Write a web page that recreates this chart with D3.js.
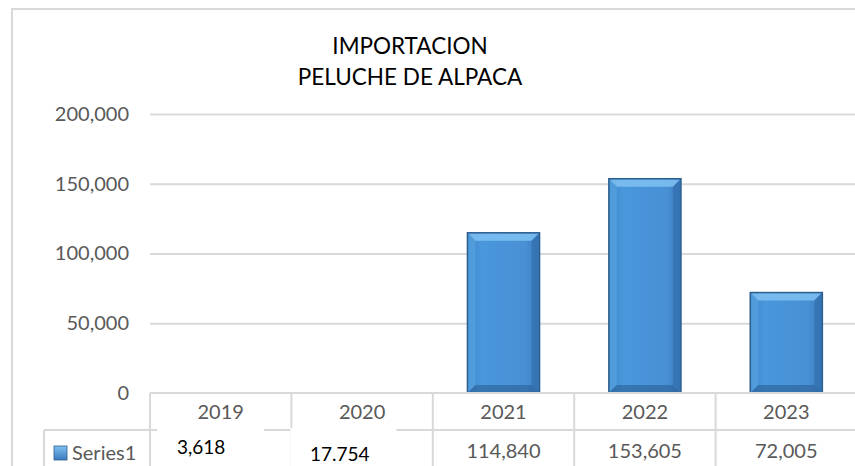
<!DOCTYPE html>
<html><head><meta charset="utf-8">
<script src="https://cdn.jsdelivr.net/npm/d3@7"></script>
<style>body{margin:0;background:#fff}svg{display:block}</style>
</head><body>
<svg id="c" width="855" height="466"></svg>
<script>
const categories = ["2019","2020","2021","2022","2023"];
const barValues = [0, 0, 114840, 153605, 72005];
const tableLabels = ["3,618","17.754","114,840","153,605","72,005"];
const yTicks = [0, 50000, 100000, 150000, 200000];
const seriesName = "Series1";
const titleLines = ["IMPORTACION","PELUCHE DE ALPACA"];

const svg = d3.select("#c");
const font = "Lato, 'Open Sans', sans-serif";
const L = 150, R = 857, T = 114, B = 393;
const x = d3.scaleBand().domain(categories).range([L, R]).paddingInner(0.49).paddingOuter(0.245);
const xc = d3.scaleBand().domain(categories).range([L, R]);
const y = d3.scaleLinear().domain([0, 200000]).range([B, T]);

// outer border
svg.append("rect").attr("x",12).attr("y",9).attr("width",900).attr("height",500)
  .attr("fill","none").attr("stroke","#d9d9d9").attr("stroke-width",2);

// title
svg.append("g").selectAll("text").data(titleLines).join("text")
  .attr("x",410).attr("y",(d,i)=>54+i*31).attr("text-anchor","middle")
  .attr("font-family",font).attr("font-size",22.5).attr("fill","#000").text(d=>d);

// gridlines
const yAxis = d3.axisLeft(y).tickValues(yTicks).tickFormat(d3.format(",")).tickSize(-(R-L)).tickPadding(21);
const gy = svg.append("g").attr("transform",`translate(${L},0)`).call(yAxis);
gy.select(".domain").remove();
gy.selectAll(".tick line").attr("stroke","#d9d9d9").attr("stroke-width",2)
  .filter(d=>d===0).remove();
gy.selectAll(".tick text").attr("font-family",font).attr("font-size",20).attr("fill","#595959");

// defs
const defs = svg.append("defs");
const g1 = defs.append("linearGradient").attr("id","bg").attr("x1",0).attr("x2",1).attr("y1",0).attr("y2",0);
g1.append("stop").attr("offset","0%").attr("stop-color","#3f86c9");
g1.append("stop").attr("offset","20%").attr("stop-color","#4a97dc");
g1.append("stop").attr("offset","80%").attr("stop-color","#4890d4");
g1.append("stop").attr("offset","100%").attr("stop-color","#3a7bbd");

const bars = svg.append("g").selectAll("g").data(categories.map((c,i)=>({c,v:barValues[i]})).filter(d=>d.v>0)).join("g");
bars.append("rect").attr("x",d=>x(d.c)).attr("y",d=>y(d.v)).attr("width",x.bandwidth())
  .attr("height",d=>B-y(d.v)).attr("fill","url(#bg)").attr("stroke","#2d5f8e").attr("stroke-width",1.5);
const bev = 8;
bars.append("polygon").attr("points",d=>{const x0=x(d.c),x1=x0+x.bandwidth(),t=y(d.v);
  return `${x0+1},${t+1} ${x1-1},${t+1} ${x1-bev},${t+bev} ${x0+bev},${t+bev}`;}).attr("fill","#7fc1f2").attr("opacity",0.85);
bars.append("polygon").attr("points",d=>{const x0=x(d.c),t=y(d.v);
  return `${x0+1},${t+1} ${x0+bev},${t+bev} ${x0+bev},${B-bev} ${x0+1},${B-1}`;}).attr("fill","#5aa6e3").attr("opacity",0.6);
bars.append("polygon").attr("points",d=>{const x1=x(d.c)+x.bandwidth(),t=y(d.v);
  return `${x1-1},${t+1} ${x1-bev},${t+bev} ${x1-bev},${B-bev} ${x1-1},${B-1}`;}).attr("fill","#2f6aa6").attr("opacity",0.55);
bars.append("polygon").attr("points",d=>{const x0=x(d.c),x1=x0+x.bandwidth();
  return `${x0+1},${B-1} ${x1-1},${B-1} ${x1-bev},${B-bev} ${x0+bev},${B-bev}`;}).attr("fill","#2a5f96").attr("opacity",0.6);

// data table
const tg = svg.append("g");
const lc = "#d9d9d9";
const r1 = B, r2 = 430;
tg.append("line").attr("x1",L).attr("x2",R).attr("y1",r1).attr("y2",r1).attr("stroke",lc).attr("stroke-width",2);
tg.append("line").attr("x1",44).attr("x2",R).attr("y1",r2).attr("y2",r2).attr("stroke",lc).attr("stroke-width",2);
tg.append("line").attr("x1",44).attr("x2",44).attr("y1",r2).attr("y2",470).attr("stroke",lc).attr("stroke-width",2);
tg.selectAll("line.v").data(categories).join("line").attr("class","v")
  .attr("x1",d=>xc(d)).attr("x2",d=>xc(d)).attr("y1",r1).attr("y2",470).attr("stroke",lc).attr("stroke-width",2);
tg.selectAll("text.cat").data(categories).join("text").attr("class","cat")
  .attr("x",d=>xc(d)+xc.bandwidth()/2).attr("y",419).attr("text-anchor","middle")
  .attr("font-family",font).attr("font-size",20).attr("fill","#595959").text(d=>d);
// overlaid text boxes for the first two labels
const ov = [0,1];
tg.selectAll("rect.ov").data(ov).join("rect").attr("class","ov")
  .attr("x",i=>xc(categories[i])+(i===0?7:-1)).attr("y",r2-2).attr("width",i=>i===0?107:106).attr("height",40).attr("fill","#fff");
tg.selectAll("text.val").data(categories).join("text").attr("class","val")
  .attr("x",(d,i)=> i===0 ? 177 - L + xc(d) : i===1 ? 310 - 291.4 + xc(d) : xc(d)+xc.bandwidth()/2)
  .attr("y",(d,i)=> i===0 ? 454 : i===1 ? 461 : 458)
  .attr("text-anchor",(d,i)=> i<2 ? "start" : "middle")
  .attr("font-family",font).attr("font-size",(d,i)=>i<2?19:20)
  .attr("fill",(d,i)=>i<2?"#000":"#595959").text((d,i)=>tableLabels[i]);
// legend key
const kg = defs.append("linearGradient").attr("id","kg").attr("x1",0).attr("x2",0).attr("y1",0).attr("y2",1);
kg.append("stop").attr("offset","0%").attr("stop-color","#7fc1f2");
kg.append("stop").attr("offset","100%").attr("stop-color","#3a7bbd");
tg.append("rect").attr("x",54).attr("y",446).attr("width",13).attr("height",14).attr("fill","url(#kg)").attr("stroke","#2d5f8e").attr("stroke-width",0.8);
tg.append("text").attr("x",72).attr("y",460).attr("font-family",font).attr("font-size",20).attr("fill","#595959").text(seriesName);
</script>
</body></html>
